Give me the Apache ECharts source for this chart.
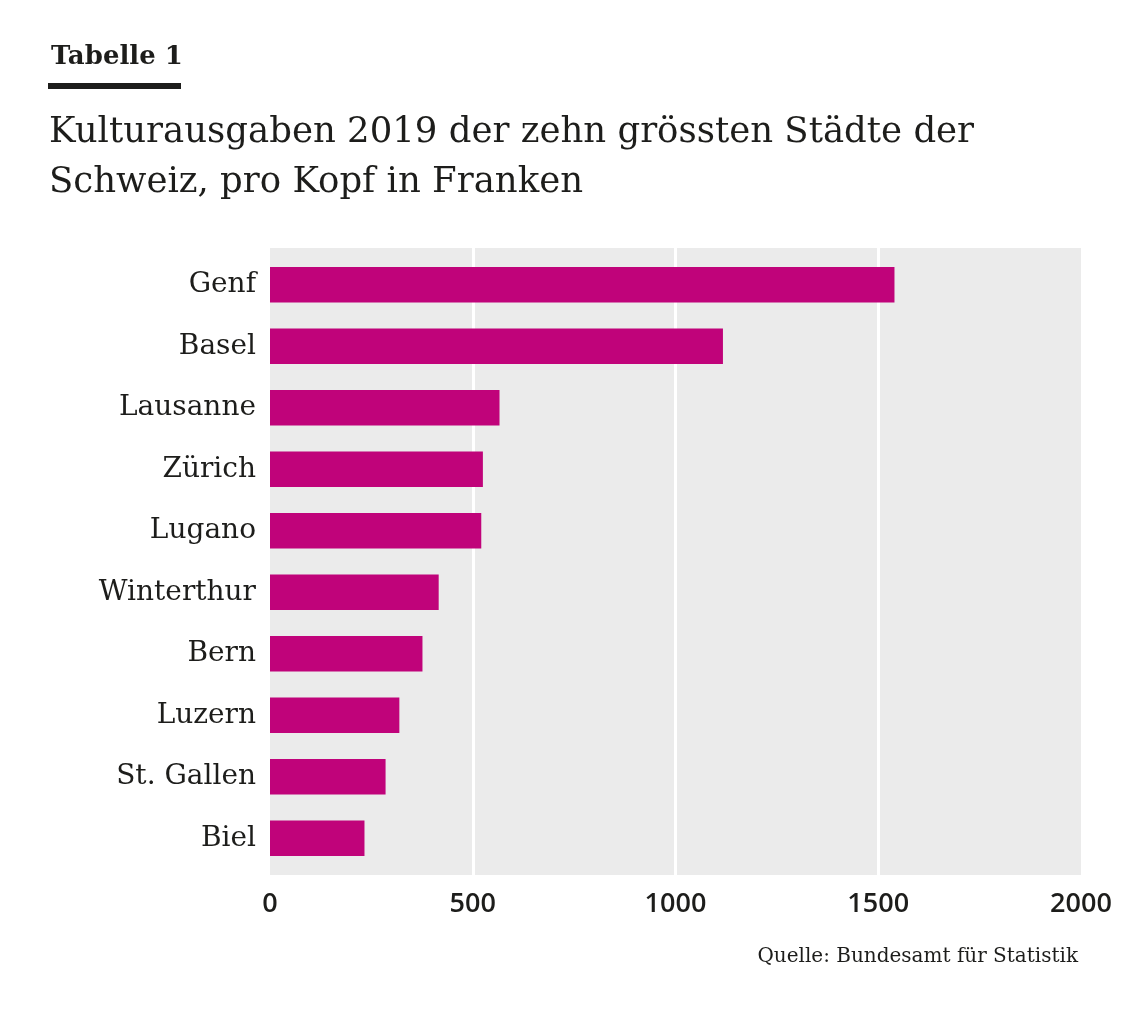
<!DOCTYPE html>
<html>
<head>
<meta charset="utf-8">
<script src="https://cdn.jsdelivr.net/npm/echarts@6/dist/echarts.min.js"></script>
<style>
  html, body { margin: 0; padding: 0; background: #fff; }
  #chart { width: 1147px; height: 1019px; }
</style>
</head>
<body>
<div id="chart"></div>
<script>
// Kulturausgaben pro Kopf (CHF), von oben nach unten
const cities = ['Genf', 'Basel', 'Lausanne', 'Zürich', 'Lugano', 'Winterthur', 'Bern', 'Luzern', 'St. Gallen', 'Biel'];
const spending = [1540, 1117, 566, 525, 521, 416, 376, 319, 285, 233];
const xTicks = [0, 500, 1000, 1500, 2000];

const chart = echarts.init(document.getElementById('chart'));
const serif = '"DejaVu Serif", serif';
const ink = '#1d1d1b';

const option = {
    animation: false,
    backgroundColor: '#fff',
    title: [
        {
            text: 'Tabelle 1',
            left: 46, top: 39,
            textStyle: { fontFamily: serif, fontWeight: 'bold', fontSize: 26, color: ink }
        },
        {
            text: 'Kulturausgaben 2019 der zehn grössten Städte der\nSchweiz, pro Kopf in Franken',
            left: 44, top: 103,
            textStyle: { fontFamily: serif, fontWeight: 'normal', fontSize: 35.5, lineHeight: 50, color: ink }
        },
        {
            text: 'Quelle: Bundesamt für Statistik',
            right: 64, top: 942,
            textStyle: { fontFamily: serif, fontWeight: 'normal', fontSize: 20, color: ink }
        }
    ],
    graphic: [
        // Strich unter "Tabelle 1"
        { type: 'rect', shape: { x: 48, y: 83, width: 133, height: 6 }, style: { fill: ink } }
    ],
    grid: [
        // Hintergrund + Gitterlinien
        { left: 270, right: 66, top: 248, bottom: 144, show: true, backgroundColor: '#ebebeb', borderWidth: 0 },
        // Balken (etwas Innenabstand oben/unten)
        { left: 270, right: 66, top: 254, bottom: 150 }
    ],
    xAxis: [
        {
            gridIndex: 0, type: 'value', min: 0, max: 2000, interval: 500,
            axisLine: { show: false }, axisTick: { show: false },
            splitLine: { show: true, showMinLine: false, showMaxLine: false, lineStyle: { color: '#fff', width: 3 } },
            axisLabel: {
                margin: 16, color: ink, fontSize: 27, fontWeight: 600,
                fontFamily: '"Open Sans", sans-serif',
                formatter: v => xTicks.includes(v) ? String(v) : ''
            }
        },
        {
            gridIndex: 1, type: 'value', min: 0, max: 2000, interval: 500, show: false,
            splitLine: { show: false }
        }
    ],
    yAxis: [
        { gridIndex: 0, type: 'category', data: cities, show: false },
        {
            gridIndex: 1, type: 'category', data: cities, inverse: true,
            axisLine: { show: false }, axisTick: { show: false },
            axisLabel: { margin: 14, color: ink, fontSize: 28, fontFamily: serif, padding: [4, 0, 0, 0] }
        }
    ],
    series: [
        {
            type: 'bar', xAxisIndex: 1, yAxisIndex: 1,
            data: spending,
            barCategoryGap: '42%',
            itemStyle: { color: '#c0037a' },
            silent: true
        }
    ]
};

chart.setOption(option);
</script>
</body>
</html>
